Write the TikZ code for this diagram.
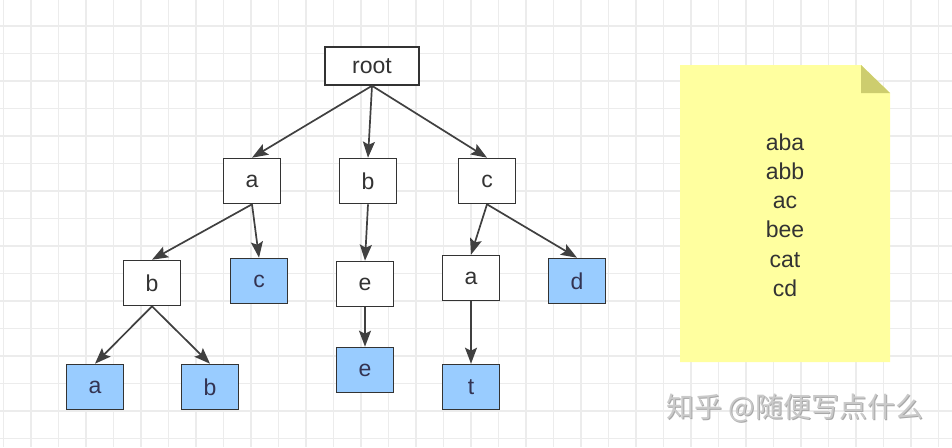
\documentclass[tikz,border=0pt]{standalone}
\usepackage{fontspec}
\setmainfont{Liberation Sans}
\newfontfamily\cjk{Noto Sans CJK SC}
\usetikzlibrary{arrows.meta}
\definecolor{gridc}{HTML}{ECECEC}
\definecolor{leafblue}{HTML}{99CCFF}
\definecolor{edgec}{HTML}{404040}
\definecolor{boxline}{HTML}{333333}
\definecolor{notey}{HTML}{FFFF9F}
\definecolor{notefold}{HTML}{CDCD6E}
\definecolor{txt}{HTML}{333333}
\definecolor{wm}{HTML}{CACACA}
\definecolor{wmshadow}{HTML}{A8A8A8}
\tikzset{
  trienode/.style={draw=boxline, line width=1.6pt, fill=white, minimum width=57pt, minimum height=45pt, inner sep=0pt, text=txt, font=\fontsize{23}{27}\selectfont},
  leafnode/.style={trienode, fill=leafblue, text=black!80!blue!60!gray},
  rootnode/.style={trienode, minimum width=94pt, minimum height=38pt},
  edge/.style={draw=edgec, line width=1.7pt, -{Stealth[length=16pt,width=12pt,inset=3pt]}},
}
\begin{document}
\begin{tikzpicture}[x=1pt,y=-1pt]
\useasboundingbox (0,0) rectangle (952,447);
\fill[white] (0,0) rectangle (952,447);
% grid
\foreach \k in {0,...,34}{
  \pgfmathsetmacro\xx{3.3+27.5*\k}
  \draw[gridc, line width=1.6pt] (\xx,0) -- (\xx,447);
}
\foreach \k in {1,...,16}{
  \pgfmathsetmacro\yy{-1.5+27.5*\k}
  \draw[gridc, line width=1.6pt] (0,\yy) -- (952,\yy);
}
% nodes
\node[rootnode] (root) at (372,66) {root};
\node[trienode] (a1) at (252,181) {a};
\node[trienode] (b1) at (368,181) {b};
\node[trienode] (c1) at (487,181) {c};
\node[trienode] (ab) at (152,283) {b};
\node[leafnode] (ac) at (259,281) {c};
\node[trienode] (be) at (365,284) {e};
\node[trienode] (ca) at (471,278) {a};
\node[leafnode] (cd) at (577,281) {d};
\node[leafnode] (aba) at (95,387) {a};
\node[leafnode] (abb) at (210,387) {b};
\node[leafnode] (bee) at (365,370) {e};
\node[leafnode] (cat) at (471,387) {t};
% edges
\draw[edge] (root.south) -- (a1.north);
\draw[edge] (root.south) -- (b1.north);
\draw[edge] (root.south) -- (c1.north);
\draw[edge] (a1.south) -- (ab.north);
\draw[edge] (a1.south) -- (ac.north);
\draw[edge] (b1.south) -- (be.north);
\draw[edge] (c1.south) -- (ca.north);
\draw[edge] (c1.south) -- (cd.north);
\draw[edge] (ab.south) -- (aba.north);
\draw[edge] (ab.south) -- (abb.north);
\draw[edge] (be.south) -- (bee.north);
\draw[edge] (ca.south) -- (cat.north);
% note
\fill[notey] (680,65) -- (861,65) -- (890,93) -- (890,362) -- (680,362) -- cycle;
\fill[notefold] (861,65) -- (890,93) -- (861,93) -- cycle;
\node[text=txt, align=center, font=\fontsize{23}{29.2}\selectfont, inner sep=0pt] (words) at (785,215) {aba\\abb\\ac\\bee\\cat\\cd};
% watermark
\node[text=wmshadow, font=\cjk\fontsize{28}{30}\selectfont, inner sep=0pt] (wms) at (796,409) {知乎 @随便写点什么};
\node[text=wm, font=\cjk\fontsize{28}{30}\selectfont, inner sep=0pt] (wmt) at (795,408) {知乎 @随便写点什么};
\end{tikzpicture}
\end{document}
